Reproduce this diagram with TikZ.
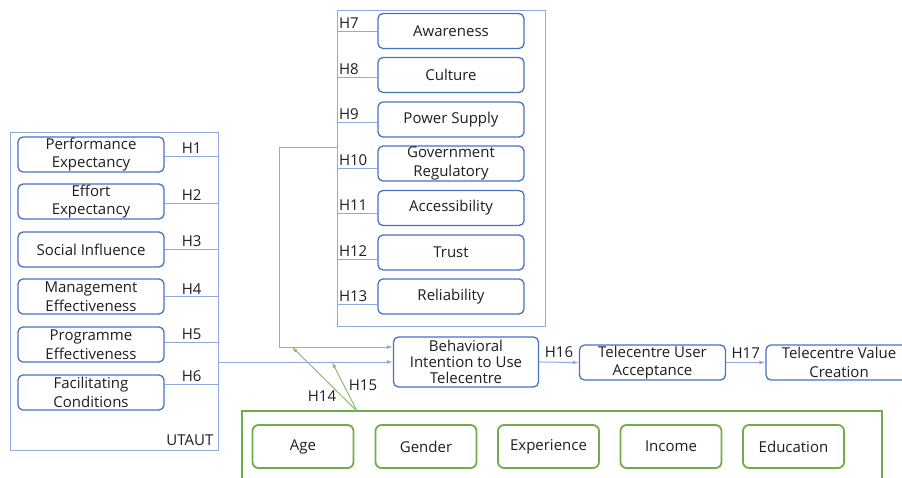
\documentclass[tikz,border=0pt]{standalone}
\usepackage{fontspec}
\setmainfont{Open Sans}
\usetikzlibrary{arrows.meta}
\definecolor{boxblue}{RGB}{68,114,196}
\definecolor{lineblue}{RGB}{143,170,220}
\definecolor{boxgreen}{RGB}{112,173,71}
\definecolor{txt}{RGB}{30,30,30}
\begin{document}
\begin{tikzpicture}[x=1pt,y=-1pt,
		font=\fontsize{15}{18.5}\selectfont,text=txt,
		bluebox/.style={draw=boxblue,line width=1.3pt,rounded corners=5pt,minimum width=146pt,minimum height=35pt,inner sep=0pt,align=center},
		greenbox/.style={draw=boxgreen,line width=1.8pt,rounded corners=6pt,minimum width=101pt,minimum height=43pt,inner sep=0pt},
		group/.style={draw=lineblue,line width=1pt},
		link/.style={draw=lineblue,line width=1pt},
		hyp/.style={inner sep=2pt}]
		\clip (0,0) rectangle (902,477);
		% UTAUT constructs
		\node[group,minimum width=208pt,minimum height=318pt] (utaut) at (114,291) {};
		\node[anchor=south east,inner sep=5pt] at (utaut.south east) {UTAUT};
		\node[bluebox] (pe) at (91,154.5) {Performance\\Expectancy};
		\node[bluebox] (ee) at (91,201.5) {Effort\\Expectancy};
		\node[bluebox] (si) at (91,249.5) {Social Influence};
		\node[bluebox] (me) at (91,296.5) {Management\\Effectiveness};
		\node[bluebox] (pg) at (91,344.5) {Programme\\Effectiveness};
		\node[bluebox] (fc) at (91,392.5) {Facilitating\\Conditions};
		\draw[link] ([yshift=-1.5pt]pe.east) -- ([yshift=-1.5pt]pe.east -| utaut.east) node[midway,above,hyp]{H1};
		\draw[link] ([yshift=-1.5pt]ee.east) -- ([yshift=-1.5pt]ee.east -| utaut.east) node[midway,above,hyp]{H2};
		\draw[link] (si.east) -- (si.east -| utaut.east) node[midway,above,hyp]{H3};
		\draw[link] (me.east) -- (me.east -| utaut.east) node[midway,above,hyp]{H4};
		\draw[link] ([yshift=2pt]pg.east) -- ([yshift=2pt]pg.east -| utaut.east) node[midway,above,hyp]{H5};
		\draw[link] ([yshift=8pt]fc.east) -- ([yshift=8pt]fc.east -| utaut.east) node[midway,above,hyp]{H6};
		% other factors
		\node[group,minimum width=208pt,minimum height=316pt] (factors) at (441,168) {};
		\node[bluebox] (aw) at (451,31) {Awareness};
		\node[bluebox] (cu) at (451,75) {Culture};
		\node[bluebox] (ps) at (451,119.5) {Power Supply};
		\node[bluebox] (gr) at (451,163.5) {Government\\Regulatory};
		\node[bluebox] (ac) at (451,208) {Accessibility};
		\node[bluebox] (tr) at (451,252.5) {Trust};
		\node[bluebox] (rl) at (451,296.5) {Reliability};
		\draw[link] (aw.west) -- (aw.west -| factors.west) node[pos=1,anchor=south west,hyp]{H7};
		\draw[link] ([yshift=-2pt]cu.west) -- ([yshift=-2pt]cu.west -| factors.west) node[pos=1,anchor=south west,hyp]{H8};
		\draw[link] ([yshift=-2.5pt]ps.west) -- ([yshift=-2.5pt]ps.west -| factors.west) node[pos=1,anchor=south west,hyp]{H9};
		\draw[link] ([yshift=-4.5pt]gr.west) -- ([yshift=-4.5pt]gr.west -| factors.west) node[pos=1,anchor=south west,hyp]{H10};
		\draw[link] ([yshift=-5pt]ac.west) -- ([yshift=-5pt]ac.west -| factors.west) node[pos=1,anchor=south west,hyp]{H11};
		\draw[link] ([yshift=-6.5pt]tr.west) -- ([yshift=-6.5pt]tr.west -| factors.west) node[pos=1,anchor=south west,hyp]{H12};
		\draw[link] ([yshift=-7.5pt]rl.west) -- ([yshift=-7.5pt]rl.west -| factors.west) node[pos=1,anchor=south west,hyp]{H13};
		% outcomes
		\node[bluebox,minimum width=145pt,minimum height=50pt,font=\fontsize{15}{16}\selectfont] (bi) at (466,362) {Behavioral\\Intention to Use\\Telecentre};
		\node[bluebox] (ua) at (652.5,362.5) {Telecentre User\\Acceptance};
		\node[bluebox] (vc) at (839,362.5) {Telecentre Value\\Creation};
		\coordinate (fb) at (279,147);
		\draw[link,-{Latex[length=6pt,width=4pt]}] (fb -| factors.west) -- (fb) -- (fb |- 0,347) -- ([yshift=15pt]bi.west);
		\draw[link,-{Latex[length=6pt,width=4pt]}] (bi.west -| utaut.east) -- (bi.west);
		\draw[link,-{Latex[length=6pt,width=4pt]}] (bi.east) -- (ua.west) node[midway,above=2pt,hyp]{H16};
		\draw[link,-{Latex[length=6pt,width=4pt]}] (ua.east) -- (vc.west) node[midway,above=2pt,hyp]{H17};
		% moderators
		\node[draw=boxgreen,line width=1.5pt,minimum width=640pt,minimum height=80pt,inner sep=0pt] (demo) at (562,451) {};
		\node[greenbox] (age) at (303,446.5) {Age};
		\node[greenbox] (gen) at (426,446.5) {Gender};
		\node[greenbox] (exp) at (548.5,446.5) {Experience};
		\node[greenbox] (inc) at (671,446.5) {Income};
		\node[greenbox] (edu) at (793.5,446.5) {Education};
		\coordinate (mod) at (357,411);
		\coordinate (t14) at (292,347);
		\coordinate (t15) at (332,362);
		\draw[draw=boxgreen!80,line width=1pt,-{Latex[length=6pt,width=4pt]}] (mod) -- (t14);
		\draw[draw=boxgreen!80,line width=1pt,-{Latex[length=6pt,width=4pt]}] (mod) -- (t15);
		\node at (322,396) {H14};
		\node at (363,385) {H15};
	\end{tikzpicture}
\end{document}
